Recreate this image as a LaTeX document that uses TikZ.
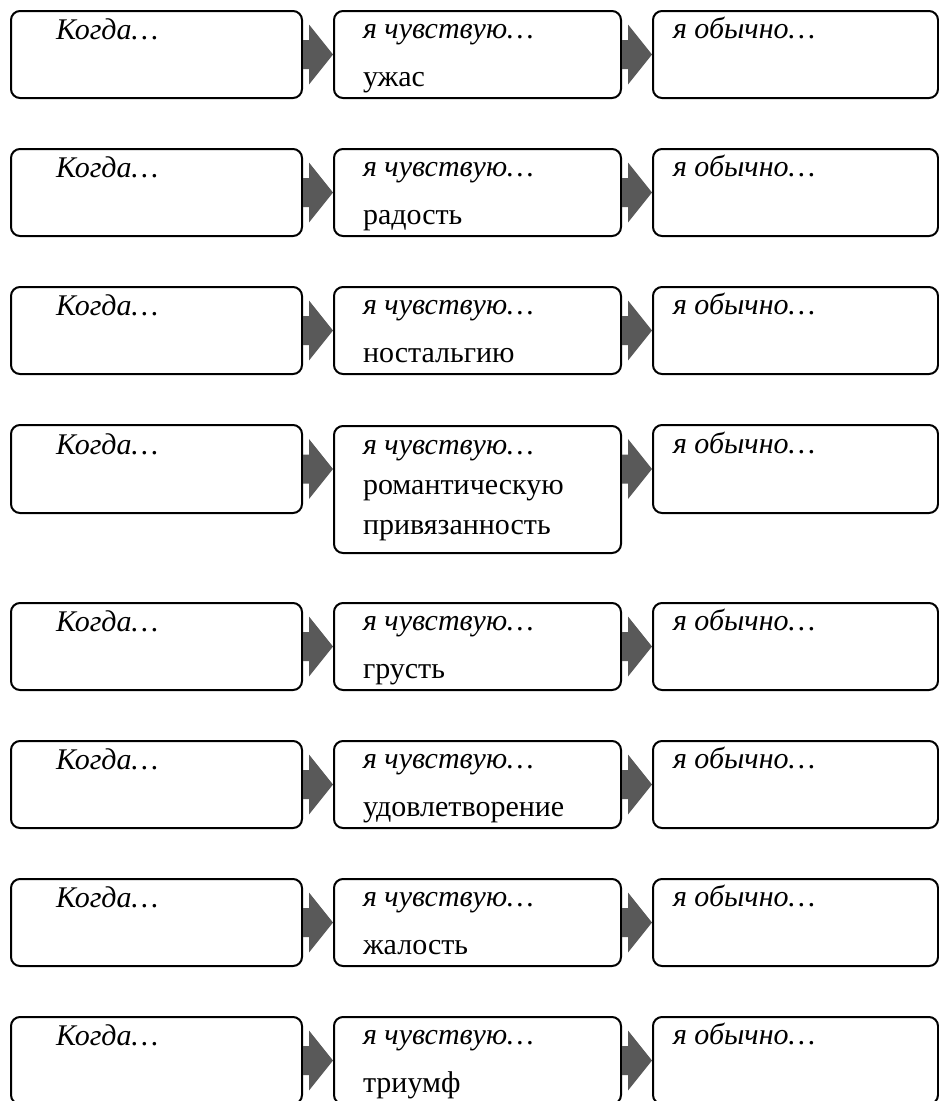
\documentclass[tikz,border=0pt]{standalone}
\usepackage{fontspec}
\setmainfont{Liberation Serif}
\definecolor{arrowgray}{HTML}{595959}
\tikzset{
  box/.style={draw=black, line width=2pt, rounded corners=9pt, anchor=north west, inner sep=0pt, outer sep=0pt},
  lbl/.style={anchor=base west, inner sep=0pt, outer sep=0pt, font=\fontsize{30}{32}\selectfont},
}
% block arrow from the east side of #1 to the west side of #2, at the height of #3
\newcommand\blockarrow[3]{%
  \fill[arrowgray]
    ([xshift=1pt,yshift=14.5pt]#1.east |- #3.east) -- ([xshift=7pt,yshift=14.5pt]#1.east |- #3.east)
    -- ([xshift=7pt,yshift=30pt]#1.east |- #3.east) -- ([xshift=-1pt]#2.west |- #3.east)
    -- ([xshift=7pt,yshift=-30pt]#1.east |- #3.east) -- ([xshift=7pt,yshift=-14.5pt]#1.east |- #3.east)
    -- ([xshift=1pt,yshift=-14.5pt]#1.east |- #3.east) -- cycle;}
% one row: #1 name, #2 top, #3 emotion
\newcommand\feelrow[3]{%
  \node[box, minimum width=291pt, minimum height=87pt] (L#1) at (11,#2) {};
  \node[box, minimum width=287pt, minimum height=87pt] (M#1) at (334,#2) {};
  \node[box, minimum width=285pt, minimum height=87pt] (R#1) at (653,#2) {};
  \node[lbl] (Lt#1) at ([xshift=45pt,yshift=-28pt]L#1.north west) {\itshape Когда…};
  \node[lbl] (Mt#1) at ([xshift=29pt,yshift=-27pt]M#1.north west) {\itshape я чувствую…};
  \node[lbl] (Me#1) at ([xshift=29pt,yshift=-75pt]M#1.north west) {#3};
  \node[lbl] (Rt#1) at ([xshift=20pt,yshift=-27pt]R#1.north west) {\itshape я обычно…};
  \blockarrow{L#1}{M#1}{L#1}
  \blockarrow{M#1}{R#1}{L#1}
}
\begin{document}
\begin{tikzpicture}[x=1pt,y=-1pt]
  \useasboundingbox (0,0) rectangle (939,1101);
  \feelrow{a}{11}{ужас}
  \feelrow{b}{149}{радость}
  \feelrow{c}{287}{ностальгию}
  % row 4 with taller middle box
  \node[box, minimum width=291pt, minimum height=88pt] (Ld) at (11,425) {};
  \node[box, minimum width=287pt, minimum height=127pt] (Md) at (334,426) {};
  \node[box, minimum width=285pt, minimum height=88pt] (Rd) at (653,425) {};
  \node[lbl] (Ltd) at ([xshift=45pt,yshift=-29pt]Ld.north west) {\itshape Когда…};
  \node[lbl] (Mtd) at ([xshift=29pt,yshift=-28pt]Md.north west) {\itshape я чувствую…};
  \node[lbl] (Med1) at ([xshift=29pt,yshift=-68pt]Md.north west) {романтическую};
  \node[lbl] (Med2) at ([xshift=29pt,yshift=-108pt]Md.north west) {привязанность};
  \node[lbl] (Rtd) at ([xshift=20pt,yshift=-28pt]Rd.north west) {\itshape я обычно…};
  \blockarrow{Ld}{Md}{Ld}
  \blockarrow{Md}{Rd}{Ld}
  \feelrow{e}{603}{грусть}
  \feelrow{f}{741}{удовлетворение}
  \feelrow{g}{879}{жалость}
  \feelrow{h}{1017}{триумф}
\end{tikzpicture}
\end{document}
